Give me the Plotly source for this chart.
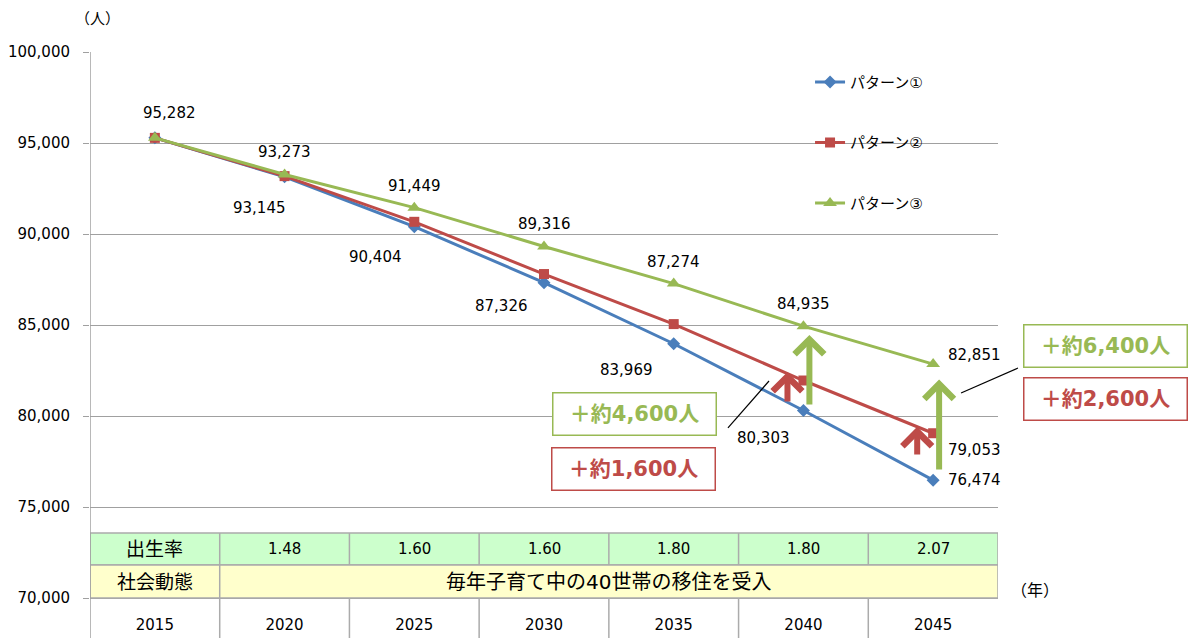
import plotly.graph_objects as go

# ---- data ----
years = ["2015", "2020", "2025", "2030", "2035", "2040", "2045"]
pattern1 = [95282, 93145, 90404, 87326, 83969, 80303, 76474]
pattern2 = [95282, 93180, 90670, 87800, 85050, 81950, 79053]
pattern3 = [95282, 93273, 91449, 89316, 87274, 84935, 82851]
series_names = ["パターン①", "パターン②", "パターン③"]

birth_rate = ["1.48", "1.60", "1.60", "1.80", "1.80", "2.07"]  # 2020..2045
row_labels = ["出生率", "社会動態"]
migration_note = "毎年子育て中の40世帯の移住を受入"

gain_labels = ["＋約4,600人", "＋約1,600人", "＋約6,400人", "＋約2,600人"]

# ---- styling ----
FONT = "DejaVu Sans, Noto Sans CJK JP"
BLUE = "#4A7EBB"
RED = "#BE4B48"
GREEN = "#98B954"
GRID = "#A0A0A0"
BORDER = "#ABABAB"

x = list(range(len(years)))
fig = go.Figure()

styles = [
    (pattern1, BLUE, "diamond", 10),
    (pattern2, RED, "square", 10),
    (pattern3, GREEN, "triangle-up", 12),
]
for name, (vals, color, symbol, msize) in zip(series_names, styles):
    fig.add_trace(go.Scatter(
        x=x, y=vals, name=name, legendgroup=name,
        mode="lines+markers",
        line=dict(color=color, width=3),
        marker=dict(symbol=symbol, size=msize, color=color),
    ))


def fmt(v):
    return f"{v:,}"


ann = []


def label(xi, v, dx, dy, anchor="center"):
    ann.append(dict(x=xi, y=v, xref="x", yref="y", text=fmt(v), showarrow=False,
                    xshift=dx, yshift=dy, xanchor=anchor, yanchor="middle",
                    font=dict(family=FONT, size=15, color="black")))


# shared starting value
label(0, pattern1[0], 15, 25)
# pattern 3: above the points
for i in range(1, 6):
    label(i, pattern3[i], 0, 22)
# pattern 1: below-left of the points
blue_shift = [None, (-25, -31), (-39, -30), (-43, -23), (-47, -26), (-40, -28)]
for i in range(1, 6):
    dx, dy = blue_shift[i]
    label(i, pattern1[i], dx, dy)
# final-year values to the right
label(6, pattern3[6], 13, 9, "left")
label(6, pattern2[6], 13, -17, "left")
label(6, pattern1[6], 13, 0, "left")

# ---- gain arrows ----
arrows = [
    (5 + 0.046, pattern1[5] + 300, pattern3[5] - 480, GREEN),
    (5 - 0.123, pattern1[5] + 470, pattern2[5] + 470, RED),
    (6 + 0.046, pattern1[6] + 560, pattern3[6] - 850, GREEN),
    (6 - 0.123, pattern1[6] + 1390, pattern2[6] + 350, RED),
]
for ax_, y0, y1, c in arrows:
    ann.append(dict(x=ax_, y=y1, ax=ax_, ay=y0, xref="x", yref="y", axref="x", ayref="y",
                    text="", showarrow=True, arrowhead=4, arrowsize=0.95,
                    arrowwidth=6, arrowcolor=c, standoff=0, borderpad=0,
                    font=dict(size=1)))

# ---- gain boxes ----
boxes = [
    (gain_labels[0], 0.600, 0.337, GREEN),
    (gain_labels[1], 0.599, 0.236, RED),
    (gain_labels[2], 1.118, 0.4615, GREEN),
    (gain_labels[3], 1.118, 0.3645, RED),
]
for txt, bx, by, c in boxes:
    ann.append(dict(x=bx, y=by, xref="paper", yref="paper", text=f"<b>{txt}</b>",
                    xanchor="center", yanchor="middle",
                    showarrow=False, width=158, height=37, borderpad=2,
                    bordercolor=c, borderwidth=1.5, bgcolor="white",
                    font=dict(family=FONT, size=21, color=c)))

# ---- table beneath the lines ----
T_TOP, T_MID, T_BOT, LBL_BOT = 0.119, 0.0604, 0.0, -0.08
shapes = [
    dict(type="rect", xref="x", yref="paper", x0=-0.5, x1=6.5, y0=T_MID, y1=T_TOP,
         fillcolor="#CCFFCC", line=dict(color=BORDER, width=1.5)),
    dict(type="rect", xref="x", yref="paper", x0=-0.5, x1=6.5, y0=T_BOT, y1=T_MID,
         fillcolor="#FFFFCC", line=dict(color=BORDER, width=1.5)),
    dict(type="line", xref="x", yref="paper", x0=0.5, x1=0.5, y0=LBL_BOT, y1=T_TOP,
         line=dict(color=BORDER, width=1.5)),
    dict(type="line", xref="x", yref="paper", x0=-0.5, x1=-0.5, y0=LBL_BOT, y1=1,
         line=dict(color=GRID, width=1.5)),
]
for b in range(1, 6):
    xb = b + 0.5
    shapes.append(dict(type="line", xref="x", yref="paper", x0=xb, x1=xb, y0=T_MID, y1=T_TOP,
                       line=dict(color=BORDER, width=1.5)))
    shapes.append(dict(type="line", xref="x", yref="paper", x0=xb, x1=xb, y0=LBL_BOT, y1=T_BOT,
                       line=dict(color=BORDER, width=1.5)))

# leader lines from the boxes to the arrows
shapes.append(dict(type="line", xref="paper", yref="paper", x0=0.7026, y0=0.3114,
                   x1=0.7478, y1=0.3974, line=dict(color="black", width=1.2)))
shapes.append(dict(type="line", xref="paper", yref="paper", x0=0.9593, y0=0.3755,
                   x1=1.022, y1=0.4212, line=dict(color="black", width=1.2)))

mid1 = (T_MID + T_TOP) / 2
mid2 = (T_BOT + T_MID) / 2
cell = dict(showarrow=False, xanchor="center", yanchor="middle", xref="x", yref="paper")
ann.append(dict(x=0, y=mid1, text=row_labels[0], font=dict(family=FONT, size=19, color="black"), **cell))
ann.append(dict(x=0, y=mid2, text=row_labels[1], font=dict(family=FONT, size=19, color="black"), **cell))
for i, r in enumerate(birth_rate, start=1):
    ann.append(dict(x=i, y=mid1, text=r, font=dict(family=FONT, size=15, color="black"), **cell))
ann.append(dict(x=3.5, y=mid2, text=migration_note, font=dict(family=FONT, size=20, color="black"), **cell))

# unit labels
ann.append(dict(x=0.008, y=1.06, xref="paper", yref="paper", text="（人）", showarrow=False,
                xanchor="center", yanchor="middle", font=dict(family=FONT, size=15, color="black")))
ann.append(dict(x=1.012, y=0.013, xref="paper", yref="paper", text="（年）", showarrow=False,
                xanchor="left", yanchor="middle", font=dict(family=FONT, size=16, color="black")))

fig.update_layout(
    width=1191, height=638,
    margin=dict(l=90, r=193, t=52, b=40),
    paper_bgcolor="white", plot_bgcolor="white",
    font=dict(family=FONT, size=15, color="black"),
    xaxis=dict(range=[-0.5, 6.5], tickvals=x, ticktext=years, showgrid=False,
               zeroline=False, showline=True, linecolor=GRID, linewidth=1,
               ticks="", ticklabelstandoff=13, tickfont=dict(size=15), automargin=False),
    yaxis=dict(range=[70000, 100000], tickvals=list(range(70000, 100001, 5000)),
               tickformat=",d", showgrid=True, gridcolor=GRID, gridwidth=1,
               zeroline=False, showline=False, ticks="outside", ticklen=6,
               tickcolor=GRID, ticklabelstandoff=10, tickfont=dict(size=15), automargin=False),
    legend=dict(x=0.793, y=0.975, xanchor="left", yanchor="top",
                bgcolor="rgba(0,0,0,0)", tracegroupgap=38, itemwidth=30,
                font=dict(family=FONT, size=15)),
    showlegend=True,
    annotations=ann,
    shapes=shapes,
)

fig.write_html("out.html")
